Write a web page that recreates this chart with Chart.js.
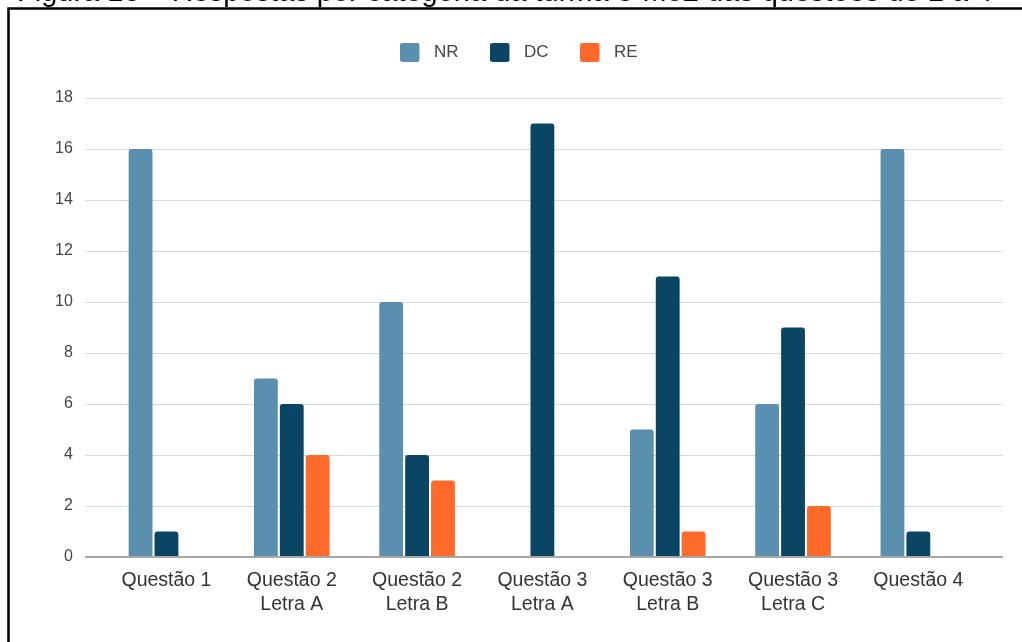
<!DOCTYPE html>
<html>
<head>
<meta charset="utf-8">
<script src="https://cdn.jsdelivr.net/npm/chart.js@4.4.0/dist/chart.umd.min.js"></script>
<style>
  html, body { margin: 0; padding: 0; background: #fff; overflow: hidden; }
  canvas { display: block; }
</style>
</head>
<body>
<canvas id="chart" width="1022" height="642"></canvas>
<script>
// Categories (multi-line labels) and the three answer types per question
const categories = [
  ["Questão 1"],
  ["Questão 2", "Letra A"],
  ["Questão 2", "Letra B"],
  ["Questão 3", "Letra A"],
  ["Questão 3", "Letra B"],
  ["Questão 3", "Letra C"],
  ["Questão 4"]
];
const seriesNames = ["NR", "DC", "RE"];
const nrValues = [16, 7, 10, 0, 5, 6, 16];
const dcValues = [1, 6, 4, 17, 11, 9, 1];
const reValues = [0, 4, 3, 0, 1, 2, 0];
const yMax = 18;
const yStep = 2;
const figureTitle = "Figura 13 – Respostas por categoria da turma e-M02 das questões de 1 a 4";

const seriesColors = ["#5a8fb0", "#0a4664", "#ff6a2b"];
const FONT = '"Liberation Sans", Arial, sans-serif';
Chart.defaults.font.family = FONT;

// Coloured square swatch for the legend (square sits at the left of a wider canvas)
function swatch(color) {
  const c = document.createElement("canvas");
  c.width = 25; c.height = 19;
  const g = c.getContext("2d");
  g.fillStyle = color;
  g.beginPath();
  g.roundRect(0, 0, 19, 19, 2);
  g.fill();
  return c;
}

// Plot insets for the category band and legend nudge
const plotInset = { left: 19, right: 22 };
const legendOffset = { x: -4, y: -27 };

const layoutTweaks = {
  id: "layoutTweaks",
  afterLayout(chart) {
    const xs = chart.scales.x;
    xs.left = chart.chartArea.left + plotInset.left;
    xs.right = chart.chartArea.right - plotInset.right;
    xs.width = xs.right - xs.left;
    xs.configure();
    const lg = chart.legend;
    lg.left += legendOffset.x; lg.right += legendOffset.x;
    lg.top += legendOffset.y; lg.bottom += legendOffset.y;
  }
};

// Page frame and the figure caption above it
const framePlugin = {
  id: "framePlugin",
  beforeDraw(chart) {
    const ctx = chart.ctx;
    ctx.save();
    ctx.fillStyle = "#fff";
    ctx.fillRect(0, 0, chart.width, chart.height);
    ctx.fillStyle = "#000";
    ctx.font = "29px " + FONT;
    ctx.textBaseline = "alphabetic";
    ctx.fillText(figureTitle, 17, 1);
    ctx.strokeStyle = "#000";
    ctx.lineWidth = 2.5;
    ctx.beginPath();
    ctx.moveTo(8.5, chart.height + 10);
    ctx.lineTo(8.5, 8.5);
    ctx.lineTo(chart.width + 10, 8.5);
    ctx.stroke();
    ctx.restore();
  }
};

const seriesValues = [nrValues, dcValues, reValues];

new Chart(document.getElementById("chart"), {
  type: "bar",
  data: {
    labels: categories,
    datasets: seriesNames.map((name, i) => ({
      label: name,
      data: seriesValues[i],
      backgroundColor: seriesColors[i],
      borderWidth: 0,
      borderRadius: { topLeft: 3, topRight: 3 },
      borderSkipped: "start",
      categoryPercentage: 0.62,
      barPercentage: 0.92
    }))
  },
  options: {
    responsive: false,
    animation: false,
    devicePixelRatio: 1,
    layout: { padding: { left: 43, right: 19, top: 39, bottom: 13 } },
    plugins: {
      tooltip: { enabled: false },
      legend: {
        position: "top",
        labels: {
          usePointStyle: true,
          pointStyleWidth: 25,
          boxHeight: 17,
          padding: 32,
          color: "#444",
          font: { size: 17 },
          generateLabels(chart) {
            return chart.data.datasets.map((ds, i) => ({
              text: ds.label,
              pointStyle: swatch(ds.backgroundColor),
              fillStyle: ds.backgroundColor,
              strokeStyle: ds.backgroundColor,
              lineWidth: 0,
              hidden: false,
              datasetIndex: i,
              fontColor: "#444"
            }));
          }
        }
      }
    },
    scales: {
      x: {
        grid: { display: false, drawTicks: false },
        border: { display: false },
        ticks: {
          autoSkip: false,
          maxRotation: 0,
          padding: 12,
          color: "#333",
          font: { size: 19.5, lineHeight: 1.23 }
        }
      },
      y: {
        min: 0,
        max: yMax,
        border: { display: false },
        grid: {
          drawTicks: false,
          color: (c) => (c.tick && c.tick.value === 0 ? "#a8a8a8" : "#d8d8d8"),
          lineWidth: (c) => (c.tick && c.tick.value === 0 ? 2 : 1)
        },
        ticks: {
          stepSize: yStep,
          padding: 12,
          color: "#444",
          font: { size: 16 }
        }
      }
    }
  },
  plugins: [layoutTweaks, framePlugin]
});
</script>
</body>
</html>
